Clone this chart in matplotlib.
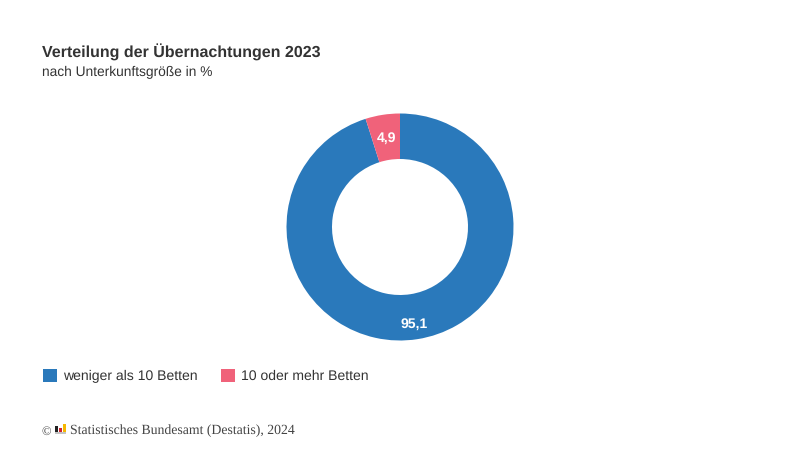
import matplotlib
matplotlib.use('Agg')
import matplotlib.pyplot as plt
from matplotlib.patches import Patch, Rectangle

categories = ['weniger als 10 Betten', '10 oder mehr Betten']
values = [95.1, 4.9]
colors = ['#2a79bb', '#f0627a']

plt.rcParams['font.family'] = ['Liberation Sans', 'DejaVu Sans']
plt.rcParams['text.hinting'] = 'no_hinting'

fig = plt.figure(figsize=(8, 4.5), dpi=100)
# axes in pixels of the 800x450 picture, y going up
ax = fig.add_axes([0, 0, 1, 1])

wedges, texts, pcts = ax.pie(
    values, colors=colors, startangle=90, counterclock=False,
    center=(400, 223), radius=113.5,
    wedgeprops={'width': 45.5, 'linewidth': 0},
    autopct=lambda p: f'{p:.1f}'.replace('.', ','), pctdistance=0.79,
    textprops={'color': 'white', 'fontweight': 'bold', 'fontsize': 10.1},
)
# the big label sits lower in the ring
pcts[0].set_y(pcts[0].get_position()[1] - 9)
ax.set_xlim(0, 800)
ax.set_ylim(0, 450)
ax.set_aspect('equal')
ax.axis('off')

ax.text(42, 392, 'Verteilung der Übernachtungen 2023', fontsize=11.5,
        fontweight='bold', color='#333333', va='baseline')
ax.text(42, 374, 'nach Unterkunftsgröße in %', fontsize=9.9,
        color='#333333', va='baseline')

handles = [Patch(facecolor=c, label=n) for c, n in zip(colors, categories)]
ax.legend(handles=handles, ncol=2, frameon=False, loc='lower left',
          bbox_to_anchor=(43 / 800, 67 / 450), borderaxespad=0, borderpad=0,
          fontsize=10.05, labelcolor='#333333', handlelength=1.0,
          handleheight=1.0, handletextpad=0.42, columnspacing=1.7)

# footer with the small logo
ax.text(41, 15, '©', fontsize=9, family='Liberation Serif', color='#444444',
        va='baseline')
ax.add_patch(Rectangle((55, 16), 11, 2, facecolor='#c4c4c4', lw=0))
ax.add_patch(Rectangle((55, 18), 2.5, 6, facecolor='#222222', lw=0))
ax.add_patch(Rectangle((59, 18), 2.5, 4, facecolor='#d22630', lw=0))
ax.add_patch(Rectangle((63, 18), 2.5, 8, facecolor='#f5b800', lw=0))
ax.text(70, 16, 'Statistisches Bundesamt (Destatis), 2024', fontsize=9.9,
        family='Liberation Serif', color='#444444', va='baseline')

fig.savefig('out.png', dpi=100)
